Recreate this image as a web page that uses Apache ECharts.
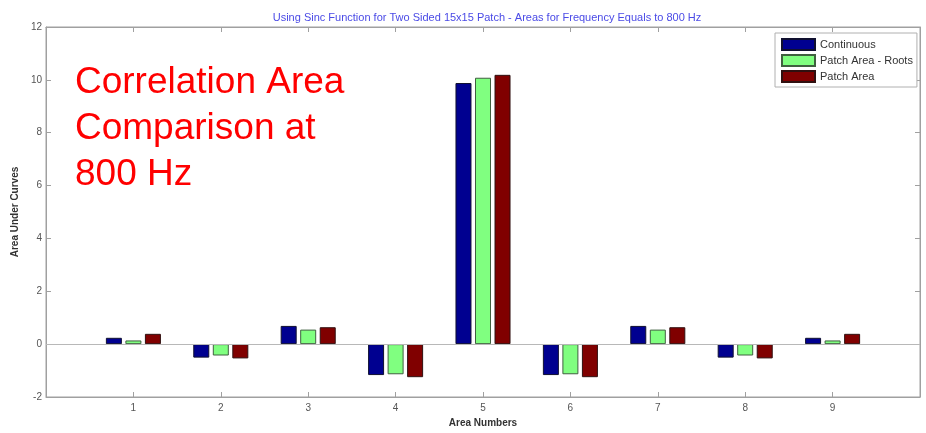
<!DOCTYPE html>
<html>
<head>
<meta charset="utf-8">
<script src="https://cdn.jsdelivr.net/npm/echarts@6/dist/echarts.min.js"></script>
<style>
html,body{margin:0;padding:0;background:#fff;}
#c{width:926px;height:433px;}
</style>
</head>
<body>
<div id="c"></div>
<script>
const categories = [1, 2, 3, 4, 5, 6, 7, 8, 9];
const continuous = [0.24, -0.51, 0.69, -1.17, 9.88, -1.17, 0.69, -0.51, 0.24];
const patchRoots = [0.14, -0.43, 0.55, -1.14, 10.08, -1.14, 0.55, -0.43, 0.14];
const patchArea = [0.39, -0.54, 0.64, -1.25, 10.19, -1.25, 0.64, -0.54, 0.39];
const yTicks = [-2, 0, 2, 4, 6, 8, 10, 12];
const seriesNames = ['Continuous', 'Patch Area - Roots', 'Patch Area'];

const font = '"Liberation Sans", Arial, sans-serif';
const axisGrey = '#a0a0a0';
const labelGrey = '#555';

const chart = echarts.init(document.getElementById('c'), null, {renderer: 'canvas'});

function pairs(vals) { return categories.map((c, i) => [c, vals[i]]); }

const barCommon = {
  type: 'bar',
  barWidth: 16,
  barGap: '22%',
  xAxisIndex: 0,
  yAxisIndex: 0
};

chart.setOption({
  animation: false,
  backgroundColor: '#fff',
  title: {
    text: 'Using Sinc Function for Two Sided 15x15 Patch - Areas for Frequency Equals to 800 Hz',
    left: 482, top: 7, textAlign: 'center',
    textStyle: {color: '#4a4ae6', fontSize: 11, fontWeight: 'normal', fontFamily: font}
  },
  legend: {
    data: seriesNames,
    orient: 'vertical',
    left: 775, top: 33,
    itemWidth: 33, itemHeight: 11, itemGap: 3,
    padding: [5, 4, 4, 6],
    backgroundColor: '#fff',
    borderColor: '#b0b0b0', borderWidth: 1,
    textStyle: {color: '#333', fontSize: 11, fontFamily: font, lineHeight: 13},
    icon: 'rect'
  },
  grid: {left: 46, right: 6, top: 27, bottom: 34, show: true, borderColor: axisGrey, borderWidth: 1},
  xAxis: [{
    type: 'value', min: 0, max: 10, interval: 1, position: 'bottom',
    name: 'Area Numbers', nameLocation: 'middle', nameGap: 21,
    nameTextStyle: {color: '#333', fontSize: 10, fontWeight: 'bold', fontFamily: font},
    axisLine: {show: true, onZero: false, lineStyle: {color: axisGrey}},
    axisTick: {show: true, inside: true, length: 5, lineStyle: {color: axisGrey}},
    axisLabel: {color: labelGrey, fontSize: 10, fontFamily: font, margin: 6,
      formatter: v => categories.indexOf(v) >= 0 ? String(v) : ''},
    splitLine: {show: false}
  }, {
    type: 'value', min: 0, max: 10, interval: 1, position: 'top',
    axisLine: {show: true, onZero: false, lineStyle: {color: axisGrey}},
    axisTick: {show: true, inside: true, length: 5, lineStyle: {color: axisGrey}},
    axisLabel: {show: false}, splitLine: {show: false}
  }],
  yAxis: [{
    type: 'value', min: yTicks[0], max: yTicks[yTicks.length - 1], interval: 2, position: 'left',
    name: 'Area Under Curves', nameLocation: 'middle', nameGap: 21, nameRotate: 90,
    nameTextStyle: {color: '#333', fontSize: 10, fontWeight: 'bold', fontFamily: font},
    axisLine: {show: true, onZero: false, lineStyle: {color: axisGrey}},
    axisTick: {show: true, inside: true, length: 5, lineStyle: {color: axisGrey}},
    axisLabel: {color: labelGrey, fontSize: 10, fontFamily: font, margin: 4},
    splitLine: {show: false}
  }, {
    type: 'value', min: yTicks[0], max: yTicks[yTicks.length - 1], interval: 2, position: 'right',
    axisLine: {show: true, onZero: false, lineStyle: {color: axisGrey}},
    axisTick: {show: true, inside: true, length: 5, lineStyle: {color: axisGrey}},
    axisLabel: {show: false}, splitLine: {show: false}
  }],
  graphic: [{
    type: 'text', left: 75, top: 60, silent: true,
    style: {
      text: 'Correlation Area\nComparison at\n800 Hz',
      fill: '#ff0000', font: '37px ' + font, lineHeight: 46
    }
  }],
  series: [
    Object.assign({}, barCommon, {
      name: seriesNames[0], data: pairs(continuous),
      itemStyle: {color: '#000090', borderColor: '#101030', borderWidth: 1},
      markLine: {
        silent: true, symbol: 'none', label: {show: false},
        lineStyle: {color: '#b8b8b8', type: 'solid', width: 1},
        data: [{yAxis: 0}]
      }
    }),
    Object.assign({}, barCommon, {
      name: seriesNames[1], data: pairs(patchRoots),
      itemStyle: {color: '#80ff80', borderColor: '#406040', borderWidth: 1}
    }),
    Object.assign({}, barCommon, {
      name: seriesNames[2], data: pairs(patchArea),
      itemStyle: {color: '#800000', borderColor: '#301010', borderWidth: 1}
    })
  ]
});
</script>
</body>
</html>
